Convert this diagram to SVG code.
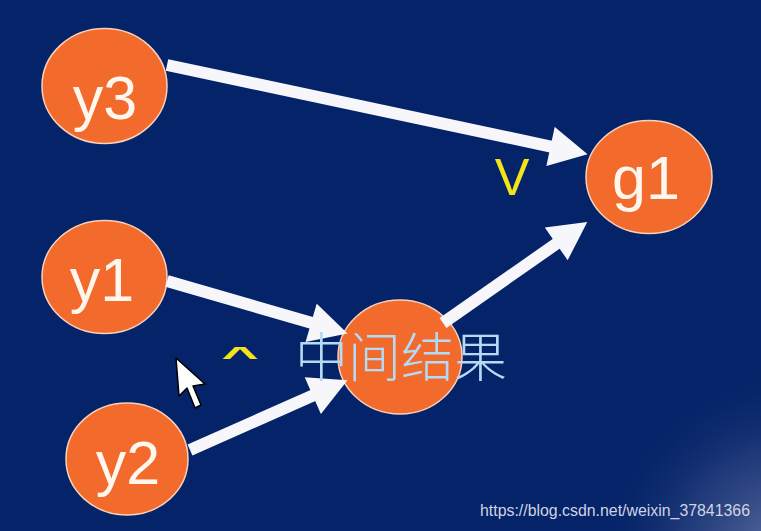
<svg xmlns="http://www.w3.org/2000/svg" width="761" height="531" viewBox="0 0 761 531">
  <defs>
    <style>
      .node { fill: #f26a2c; stroke: #f9d2bc; stroke-width: 1.5; }
      .lbl { font-family: "Liberation Sans", Arial, sans-serif; font-size: 61px; fill: #fff6ee; text-anchor: middle; }
      .edge { stroke: #f7f7fb; stroke-width: 12; fill: none; marker-end: url(#ah); }
      .mark { font-family: "Liberation Sans", Arial, sans-serif; fill: #f2e418; text-anchor: middle; }
    </style>
    <marker id="ah" markerUnits="userSpaceOnUse" markerWidth="40" markerHeight="40" viewBox="0 0 36 38" refX="6" refY="19" orient="auto">
      <path d="M0,0 L36,19 L0,38 Z" fill="#f7f7fb"/>
    </marker>
    <radialGradient id="glow" cx="790" cy="560" r="200" gradientUnits="userSpaceOnUse">
      <stop offset="0" stop-color="#7080aa" stop-opacity="0.9"/>
      <stop offset="0.55" stop-color="#4a5c94" stop-opacity="0.4"/>
      <stop offset="1" stop-color="#042368" stop-opacity="0"/>
    </radialGradient>
  </defs>
  <rect x="0" y="0" width="761" height="531" fill="#042368"/>
  <rect x="0" y="0" width="761" height="531" fill="url(#glow)"/>

  <g id="node-y3"><ellipse class="node" cx="104.5" cy="86" rx="62.5" ry="57.5"/><text class="lbl" x="105" y="119">y3</text></g>
  <g id="node-y1"><ellipse class="node" cx="104.5" cy="277" rx="62.5" ry="56.5"/><text class="lbl" x="102" y="301">y1</text></g>
  <g id="node-y2"><ellipse class="node" cx="127" cy="459" rx="61" ry="56"/><text class="lbl" x="128" y="484">y2</text></g>
  <g id="node-g1"><ellipse class="node" cx="649" cy="177" rx="63" ry="56.5"/><text class="lbl" x="646" y="199">g1</text></g>
  <g id="node-mid"><ellipse class="node" cx="400" cy="357" rx="62" ry="57"/></g>

  <g id="connectors">
    <line class="edge" x1="167" y1="65" x2="556.7" y2="147.8"/>
    <line class="edge" x1="167" y1="281" x2="317.2" y2="324.6"/>
    <line class="edge" x1="190" y1="450" x2="318.6" y2="393.1"/>
    <line class="edge" x1="443" y1="323" x2="561.4" y2="240.2"/>
  </g>

  <text id="mid-label" x="401" y="377" font-family="'Noto Sans CJK SC', sans-serif" font-size="53" font-weight="300" fill="#b4daf4" text-anchor="middle">中间结果</text>

  <text class="mark" x="512" y="195" font-size="52">V</text>
  <text class="mark" transform="translate(240,366) scale(1.6,0.7)" x="0" y="0" font-size="40" font-weight="bold">^</text>

  <polygon points="176,358 179,396 187,388 195,408 201,405 193,386 205,384" fill="#ffffff" stroke="#000000" stroke-width="1.5" stroke-linejoin="round"/>

  <text x="480" y="516" font-family="'Liberation Sans', Arial, sans-serif" font-size="16" fill="#cfd4e2" textLength="270" lengthAdjust="spacingAndGlyphs">https://blog.csdn.net/weixin_37841366</text>
</svg>
